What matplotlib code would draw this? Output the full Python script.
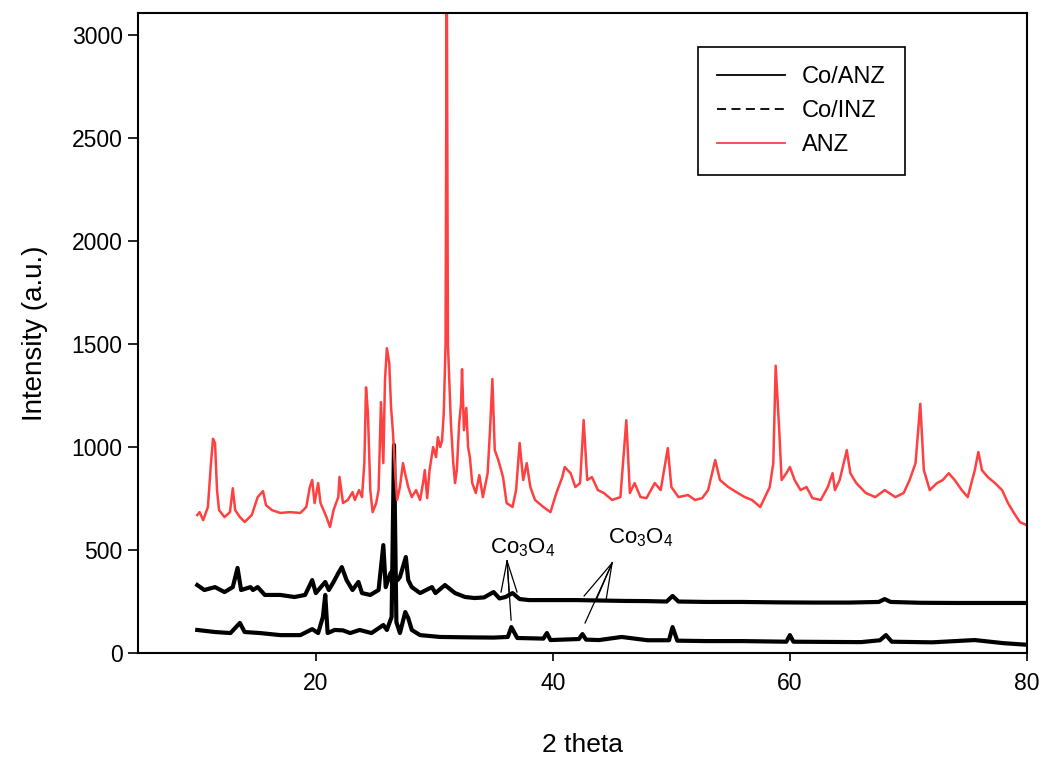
import matplotlib.pyplot as plt
from matplotlib.lines import Line2D
import numpy as np

plt.rcParams['font.family'] = ['Liberation Sans', 'DejaVu Sans']
plt.rcParams['mathtext.fontset'] = 'custom'
plt.rcParams['mathtext.rm'] = 'Liberation Sans'
plt.rcParams['mathtext.it'] = 'Liberation Sans:italic'

# ANZ (red) - 2theta, intensity
anz_x = [10.0, 10.2, 10.5, 10.9, 11.16, 11.33, 11.5, 11.67, 11.84, 12.3, 12.76, 13.0, 13.2,
         13.6, 14.0, 14.6, 15.1, 15.55, 15.8, 16.3, 17.0, 17.8, 18.7, 19.2, 19.5, 19.7,
         19.9, 20.2, 20.4, 20.9, 21.2, 21.5, 21.9, 22.0, 22.3, 22.7, 23.1, 23.3, 23.65,
         23.9, 24.1, 24.24, 24.4, 24.6, 24.8, 25.1, 25.3, 25.5, 25.7, 25.84, 26.0, 26.2,
         26.35, 26.5, 26.7, 26.86, 27.1, 27.36, 27.53, 27.8, 28.1, 28.46, 28.8, 29.05,
         29.2, 29.4, 29.6, 29.9, 30.15, 30.3, 30.5, 30.65, 30.8, 30.95, 31.05, 31.15,
         31.4, 31.6, 31.75, 31.9, 32.1, 32.26, 32.34, 32.5, 32.7, 32.85, 33.0, 33.2,
         33.5, 33.8, 34.1, 34.5, 34.7, 34.9, 35.1, 35.4, 35.8, 36.1, 36.6, 36.9, 37.2,
         37.5, 37.8, 38.1, 38.5, 39.2, 39.8, 40.3, 40.8, 41.0, 41.5, 41.9, 42.3, 42.6,
         42.9, 43.3, 43.8, 44.3, 45.0, 45.7, 46.2, 46.5, 46.9, 47.4, 47.9, 48.6, 49.1,
         49.7, 50.0, 50.6, 51.4, 52.0, 52.6, 53.1, 53.7, 54.1, 54.8, 55.6, 56.2, 56.8,
         57.5, 57.9, 58.3, 58.6, 58.8, 59.1, 59.3, 59.7, 60.0, 60.4, 60.9, 61.4, 61.9,
         62.6, 63.2, 63.6, 63.8, 64.2, 64.8, 65.1, 65.6, 66.4, 67.2, 68.0, 68.9, 69.6,
         70.1, 70.6, 71.0, 71.3, 71.8, 72.4, 72.9, 73.4, 73.9, 74.5, 75.0, 75.6, 75.9,
         76.2, 76.7, 77.3, 77.9, 78.4, 78.9, 79.4, 80.0]
anz_y = [670, 684, 645, 709, 922, 1040, 1019, 791, 694, 660, 684, 800, 694,
         660, 636, 670, 757, 786, 718, 694, 680, 684, 680, 709, 806, 840,
         728, 825, 728, 660, 612, 694, 757, 855, 728, 743, 781, 743, 791,
         757, 922, 1290, 1165, 791, 684, 728, 791, 1218, 922, 1325, 1480, 1408,
         1194, 1082, 873, 743, 806, 922, 873, 806, 757, 791, 743, 825,
         888, 752, 888, 1000, 951, 1048, 1000, 1030, 1165, 1500, 3400, 1500,
         1116, 922, 825, 888, 1116, 1213, 1378, 1082, 1190, 1000, 951, 825,
         777, 864, 757, 873, 1082, 1330, 985, 937, 854, 728, 709, 791, 1020,
         840, 922, 806, 743, 709, 684, 777, 854, 903, 873, 806, 825, 1131,
         840, 854, 791, 777, 743, 757, 1130, 777, 825, 757, 752, 825, 791,
         995, 806, 757, 767, 743, 752, 791, 937, 840, 806, 777, 757, 743,
         709, 757, 806, 922, 1395, 1082, 840, 873, 903, 840, 791, 806, 752,
         743, 806, 873, 791, 840, 985, 873, 825, 777, 757, 791, 757, 777,
         840, 922, 1210, 888, 791, 825, 840, 873, 840, 791, 757, 888, 976,
         888, 854, 825, 791, 728, 680, 636, 620]

# Co/ANZ (upper black)
coanz_x = [10.0, 10.6, 11.5, 12.3, 13.0, 13.4, 13.7, 14.5, 14.7, 15.1, 15.7, 17.0, 18.2,
           19.1, 19.7, 20.0, 20.8, 21.1, 21.5, 21.9, 22.2, 22.6, 23.1, 23.6, 23.9, 24.6,
           25.3, 25.7, 25.9, 26.3, 26.5, 26.9, 27.1, 27.6, 27.8, 28.1, 28.8, 29.8, 30.1,
           30.9, 31.75, 32.6, 33.4, 34.2, 35.0, 35.5, 36.0, 36.6, 37.2, 38.0, 40.0, 42.0,
           44.0, 46.0, 48.0, 49.6, 50.1, 50.6, 53.0, 56.0, 59.0, 62.0, 65.0, 67.5, 68.0,
           68.5, 71.0, 74.0, 77.0, 80.0]
coanz_y = [330, 306, 320, 296, 320, 413, 306, 320, 306, 320, 282, 282, 272,
           282, 354, 291, 345, 306, 345, 388, 417, 354, 306, 345, 291, 282,
           306, 524, 320, 388, 400, 354, 369, 466, 354, 320, 291, 320, 291,
           330, 291, 272, 267, 270, 296, 265, 272, 291, 262, 257, 257, 257,
           255, 253, 252, 250, 277, 250, 248, 248, 246, 245, 245, 248, 262,
           248, 244, 243, 243, 243]

# Co/INZ (lower black)
coinz_x = [10.0, 11.5, 12.8, 13.6, 14.0, 15.3, 17.0, 18.7, 19.7, 20.2, 20.6, 20.8, 21.0,
           21.6, 22.3, 22.9, 23.7, 24.7, 25.7, 26.0, 26.4, 26.6, 26.8, 27.1, 27.55, 27.8,
           28.1, 28.8, 30.5, 33.0, 35.0, 36.2, 36.5, 37.0, 39.2, 39.5, 39.8, 42.2, 42.5,
           42.8, 43.9, 45.8, 48.0, 49.8, 50.1, 50.5, 53.0, 56.0, 59.7, 60.0, 60.3, 63.0,
           66.0, 67.6, 68.1, 68.6, 72.0, 75.6, 78.0, 80.0]
coinz_y = [112, 102, 97, 146, 102, 97, 87, 87, 116, 97, 175, 282, 97,
           112, 110, 97, 112, 97, 136, 112, 175, 1010, 150, 97, 199, 170,
           112, 87, 78, 76, 75, 78, 126, 73, 70, 97, 63, 68, 92,
           65, 63, 78, 62, 62, 126, 60, 58, 58, 55, 87, 55, 54,
           53, 62, 87, 55, 52, 63, 48, 40]

# Co3O4 labels: text position, pointer start, pointer ends
co_text = [(37.5, 510), (47.4, 558)]
co_apex = [(36.14, 447), (45.0, 437)]
co_ends = [[(35.63, 296), (36.31, 296), (36.98, 296), (36.48, 160)],
           [(42.64, 277), (43.73, 267), (44.49, 257), (42.72, 146)]]

fig = plt.figure(figsize=(10.46, 7.62), dpi=100)
ax = fig.add_axes([0.1319, 0.1430, 0.8499, 0.8399])

ax.plot(coinz_x, coinz_y, color='black', lw=3.0)
ax.plot(coanz_x, coanz_y, color='black', lw=3.0)
ax.plot(anz_x, anz_y, color='#ff4040', lw=1.8)

for (tx, ty), (ax0, ay0), ends in zip(co_text, co_apex, co_ends):
    ax.text(tx, ty, 'Co$_3$O$_4$', fontsize=16, ha='center', va='center')
    for ex, ey in ends:
        ax.plot([ax0, ex], [ay0, ey], color='black', lw=0.9)

ax.set_xlim(5, 80)
ax.set_ylim(0, 3107)
ax.set_xticks([20, 40, 60, 80])
ax.set_yticks(np.arange(0, 3001, 500))
ax.tick_params(axis='both', direction='out', labelsize=16.5, width=1.2)
ax.tick_params(axis='y', length=7, pad=4)
ax.tick_params(axis='x', length=6, pad=8)
for s in ax.spines.values():
    s.set_linewidth(1.5)

ax.set_xlabel('2 theta', fontsize=19, labelpad=27)
ax.set_ylabel('Intensity (a.u.)', fontsize=20, labelpad=17)

handles = [Line2D([], [], color='black', lw=1.3),
           Line2D([], [], color='black', lw=1.3, ls=(0, (5, 3))),
           Line2D([], [], color='#ff4040', lw=1.3)]
leg = ax.legend(handles, ['Co/ANZ', 'Co/INZ', 'ANZ'], loc='upper left',
                bbox_to_anchor=(0.630, 0.947), borderaxespad=0, fontsize=17,
                fancybox=False, edgecolor='black', framealpha=1,
                handlelength=2.9, borderpad=0.8, labelspacing=0.52, handletextpad=0.7)
leg.get_frame().set_linewidth(1.2)

fig.savefig('out.png', dpi=100)
